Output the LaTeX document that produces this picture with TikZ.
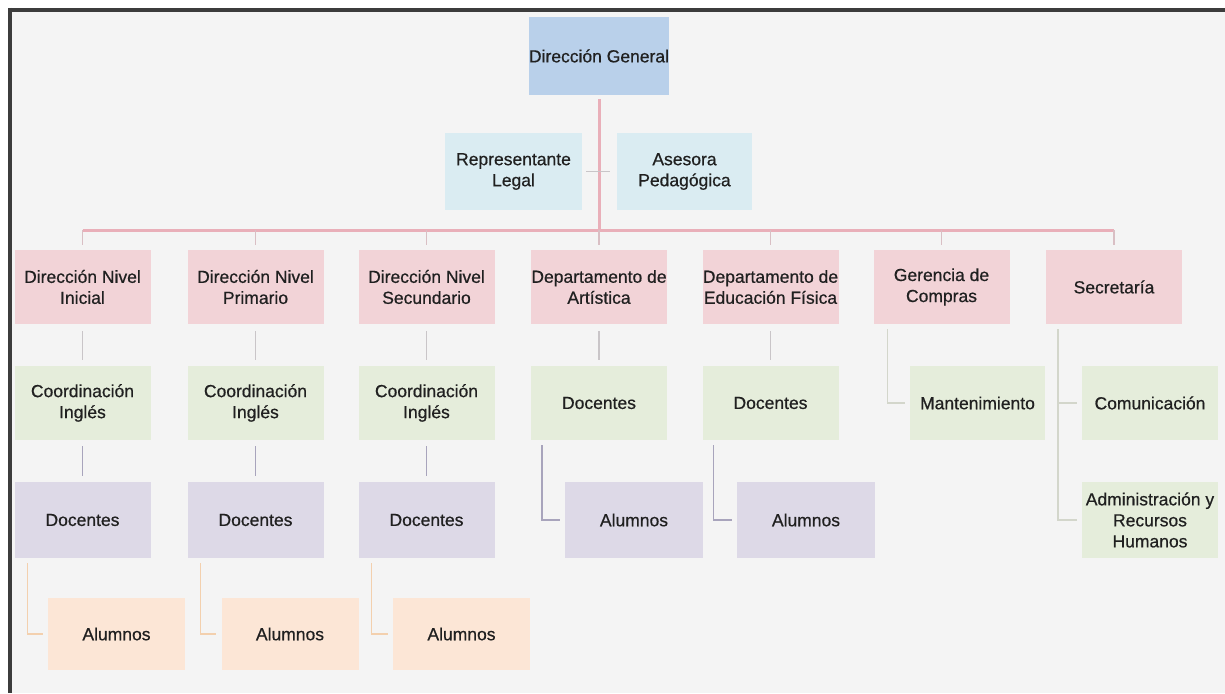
\documentclass[tikz,border=0pt]{standalone}
\usepackage{fontspec}
\setmainfont{Liberation Sans}[FakeBold=0.6]
\definecolor{pagebg}{HTML}{F4F4F4}
\definecolor{framec}{HTML}{3C3C3C}
\definecolor{textc}{HTML}{202020}
\definecolor{topblue}{HTML}{B9D0EA}
\definecolor{staffc}{HTML}{DAECF2}
\definecolor{unitpink}{HTML}{F2D3D7}
\definecolor{subgreen}{HTML}{E5EDDB}
\definecolor{subpurple}{HTML}{DDD9E7}
\definecolor{subpeach}{HTML}{FCE6D6}
\definecolor{trunkc}{HTML}{E9AFB9}
\definecolor{stubc}{HTML}{D9BFC4}
\definecolor{grayc}{HTML}{C9C5C8}
\definecolor{purplec}{HTML}{A8A4BC}
\definecolor{peachc}{HTML}{F3D0AE}
\definecolor{greenc}{HTML}{D3D6CB}
\begin{document}
\begin{tikzpicture}[x=1pt,y=-1pt,
  box/.style={minimum width=136pt,minimum height=75pt,inner sep=0pt,
    align=center,text=textc,font=\fontsize{17.5}{21}\selectfont},
  topbox/.style={box,fill=topblue,minimum width=138pt,minimum height=78pt},
  staffbox/.style={box,fill=staffc,minimum height=77pt},
  unitbox/.style={box,fill=unitpink,minimum height=74pt},
  greenbox/.style={box,fill=subgreen,minimum height=74pt},
  purplebox/.style={box,fill=subpurple,minimum height=76pt},
  peachbox/.style={box,fill=subpeach,minimum height=72pt},
  trunk/.style={draw=trunkc,line width=3pt},
  stub/.style={draw=stubc,line width=1.2pt},
  link/.style={line width=1.5pt}]

% page and frame
\useasboundingbox (0,0) rectangle (1225,693);
\fill[white] (0,0) rectangle (1225,693);
\fill[pagebg] (8,8) rectangle (1225,693);
\draw[framec,line width=3.5pt] (8,10) -- (1225,10);
\draw[framec,line width=3.5pt] (10,8) -- (10,693);

% top of the chart
\node[topbox] (dg) at (599,56) {Dirección General};
\node[staffbox,minimum width=137pt] (rep) at (513.5,171.5) {Representante\\Legal};
\node[staffbox,minimum width=135pt] (ase) at (684.5,171.5) {Asesora\\Pedagógica};

% first level units
\node[unitbox] (u1) at (82.5,287) {Dirección Nivel\\Inicial};
\node[unitbox] (u2) at (255.5,287) {Dirección Nivel\\Primario};
\node[unitbox] (u3) at (426.5,287) {Dirección Nivel\\Secundario};
\node[unitbox] (u4) at (599,287) {Departamento de\\Artística};
\node[unitbox] (u5) at (770.5,287) {Departamento de\\Educación Física};
\node[unitbox] (u6) at (941.5,287) {Gerencia de\\Compras};
\node[unitbox] (u7) at (1114,287) {Secretaría};

% second level
\node[greenbox] (c1) at (82.5,403) {Coordinación\\Inglés};
\node[greenbox] (c2) at (255.5,403) {Coordinación\\Inglés};
\node[greenbox] (c3) at (426.5,403) {Coordinación\\Inglés};
\node[greenbox] (g4) at (599,403) {Docentes};
\node[greenbox] (g5) at (770.5,403) {Docentes};
\node[greenbox,minimum width=135pt] (mant) at (977.5,403) {Mantenimiento};
\node[greenbox] (com) at (1150,403) {Comunicación};

% third level
\node[purplebox] (d1) at (82.5,520) {Docentes};
\node[purplebox] (d2) at (255.5,520) {Docentes};
\node[purplebox] (d3) at (426.5,520) {Docentes};
\node[purplebox,minimum width=138pt] (a4) at (634,520) {Alumnos};
\node[purplebox,minimum width=138pt] (a5) at (806,520) {Alumnos};
\node[greenbox,minimum height=76pt] (adm) at (1150,520) {Administración y\\Recursos\\Humanos};

% fourth level
\node[peachbox,minimum width=137pt] (al1) at (116.5,634) {Alumnos};
\node[peachbox,minimum width=137pt] (al2) at (290,634) {Alumnos};
\node[peachbox,minimum width=137pt] (al3) at (461.5,634) {Alumnos};

% main trunk and bar
\coordinate (barL) at (u1.north |- 0,230);
\coordinate (barR) at (u7.north |- 0,230);
\coordinate (barM) at (dg.south |- 0,230);
\path[trunk] ([yshift=-4pt]dg.south) -- (barM);
\path[trunk] (barL) -- (barR);
\path[draw=grayc,line width=1.2pt] ([xshift=4pt]rep.east) -- ([xshift=-7pt]ase.west);
\foreach \u in {u1,u2,u3,u4,u5,u6,u7}
  \path[stub] (\u.north |- barL) -- ([yshift=5pt]\u.north);

% unit to second level
\foreach \a/\b in {u1/c1,u2/c2,u3/c3,u4/g4,u5/g5}
  \draw[grayc,link,shorten <=7pt,shorten >=6pt] (\a.south) -- (\b.north);
\foreach \a/\b in {c1/d1,c2/d2,c3/d3}
  \draw[purplec,link,shorten <=6pt,shorten >=6pt] (\a.south) -- (\b.north);

% elbows
\foreach \a/\b in {d1/al1,d2/al2,d3/al3}
  \draw[peachc,link] ([xshift=13pt,yshift=-5pt]\a.south west) |- ([xshift=-5pt]\b.west);
\foreach \a/\b in {g4/a4,g5/a5}
  \draw[purplec,link] ([xshift=11pt,yshift=-5pt]\a.south west) |- ([xshift=-5pt]\b.west);
\draw[greenc,link] ([xshift=14pt,yshift=-5pt]u6.south west) |- ([xshift=-5pt]mant.west);
\draw[greenc,link] ([xshift=12pt,yshift=-5pt]u7.south west) |- ([xshift=-5pt]adm.west);
\draw[greenc,link] ([xshift=12pt]u7.south west |- com.west) -- ([xshift=-5pt]com.west);
\end{tikzpicture}
\end{document}
